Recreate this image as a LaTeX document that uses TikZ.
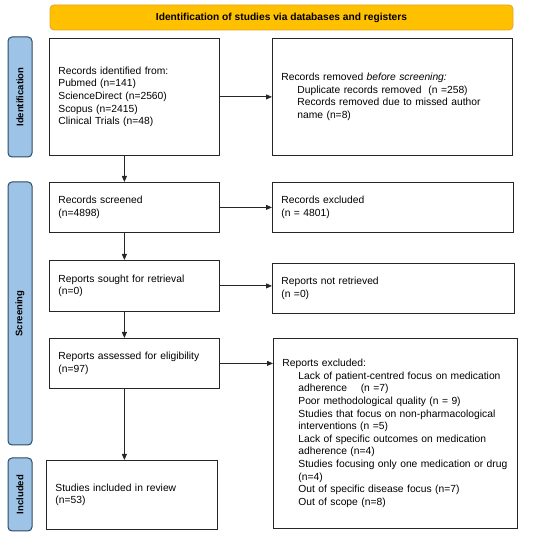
\documentclass[tikz,border=0pt]{standalone}
\usepackage{fontspec}
\setmainfont{Liberation Sans}
\usepackage{xcolor}
\usepackage{tikz}
\usetikzlibrary{arrows.meta,positioning,calc}

\definecolor{barfill}{HTML}{FFC000}
\definecolor{bardraw}{HTML}{E3A31C}
\definecolor{sidefill}{HTML}{9DC3E6}
\definecolor{sidedraw}{HTML}{2E4A66}

\begin{document}
\begin{tikzpicture}[x=1pt, y=-1pt,
  box/.style={draw=black!85, line width=0.8pt, anchor=north west, align=left,
    inner xsep=9pt, inner ysep=0pt, font=\fontsize{10.3}{12.6}\selectfont},
  sidelabel/.style={draw=sidedraw, fill=sidefill, line width=1pt, rounded corners=4pt,
    rotate=90, minimum height=24pt, inner sep=0pt, font=\fontsize{9.5}{11}\selectfont\bfseries},
  arr/.style={-{Triangle[length=6pt,width=5pt]}, line width=0.8pt, black!85}]
\useasboundingbox (0,0) rectangle (550,537);
% Title bar
\node[draw=bardraw, fill=barfill, line width=0.8pt, rounded corners=4pt,
  minimum width=463pt, minimum height=25pt, inner sep=0pt,
  font=\fontsize{10.2}{12}\selectfont\bfseries] (title) at (281.5,17.5)
  {Identification of studies via databases and registers};
% Phase labels
\node[sidelabel, minimum width=120pt] (lblident) at (20,97) {Identification};
\node[sidelabel, minimum width=263pt] (lblscreen) at (20,313.5) {Screening};
\node[sidelabel, minimum width=73pt] (lblincl) at (20,494.5) {Included};
% Left column
\node[box, minimum width=170pt, minimum height=117pt, text width=152pt] (ident) at (49,38)
  {Records identified from:\\ Pubmed (n=141)\\ ScienceDirect (n=2560)\\ Scopus (n=2415)\\ Clinical Trials (n=48)};
\node[box, minimum width=170pt, minimum height=50pt, text width=152pt] (screened) at (49,182)
  {Records screened\\ (n=4898)};
\node[box, minimum width=170pt, minimum height=51pt, text width=152pt] (sought) at (49,260)
  {Reports sought for retrieval\\ (n=0)};
\node[box, minimum width=170pt, minimum height=50pt, text width=152pt] (assessed) at (49,338)
  {Reports assessed for eligibility\\ (n=97)};
\node[box, minimum width=171pt, minimum height=69pt, text width=153pt] (included) at (46,460)
  {Studies included in review\\ (n=53)};
% Right column
\node[box, minimum width=240pt, minimum height=117pt, text width=222pt] (removed) at (272,38)
  {Records removed \textit{before screening:}\\
   \hspace*{16pt}Duplicate records removed \ (n =258)\\
   \hspace*{16pt}Records removed due to missed author\\
   \hspace*{16pt}name (n=8)};
\node[box, minimum width=241pt, minimum height=50pt, text width=223pt] (excluded) at (272,182)
  {Records excluded\\ (n = 4801)};
\node[box, minimum width=242pt, minimum height=50pt, text width=224pt] (notretr) at (272,263)
  {Reports not retrieved\\ (n =0)};
\node[box, minimum width=244pt, minimum height=190pt, text width=226pt] (repexcl) at (273,338)
  {Reports excluded:\\
   \hspace*{16pt}Lack of patient-centred focus on medication\\
   \hspace*{16pt}adherence \quad (n =7)\\
   \hspace*{16pt}Poor methodological quality (n = 9)\\
   \hspace*{16pt}Studies that focus on non-pharmacological\\
   \hspace*{16pt}interventions (n =5)\\
   \hspace*{16pt}Lack of specific outcomes on medication\\
   \hspace*{16pt}adherence (n=4)\\
   \hspace*{16pt}Studies focusing only one medication or drug\\
   \hspace*{16pt}(n=4)\\
   \hspace*{16pt}Out of specific disease focus (n=7)\\
   \hspace*{16pt}Out of scope (n=8)};
% Arrows
\draw[arr] (ident.east) -- (removed.west);
\draw[arr] (screened.east) -- (excluded.west);
\draw[arr] (sought.east) -- (sought.east -| notretr.west);
\draw[arr] (assessed.east) -- (assessed.east -| repexcl.west);
\draw[arr] ([xshift=-10pt]ident.south) -- ([xshift=-10pt]screened.north);
\draw[arr] ([xshift=-10pt]screened.south) -- ([xshift=-10pt]sought.north);
\draw[arr] ([xshift=-10pt]sought.south) -- ([xshift=-10pt]assessed.north);
\draw[arr] ([xshift=-10pt]assessed.south) -- ([xshift=-10pt]assessed.south |- included.north);
\end{tikzpicture}
\end{document}
